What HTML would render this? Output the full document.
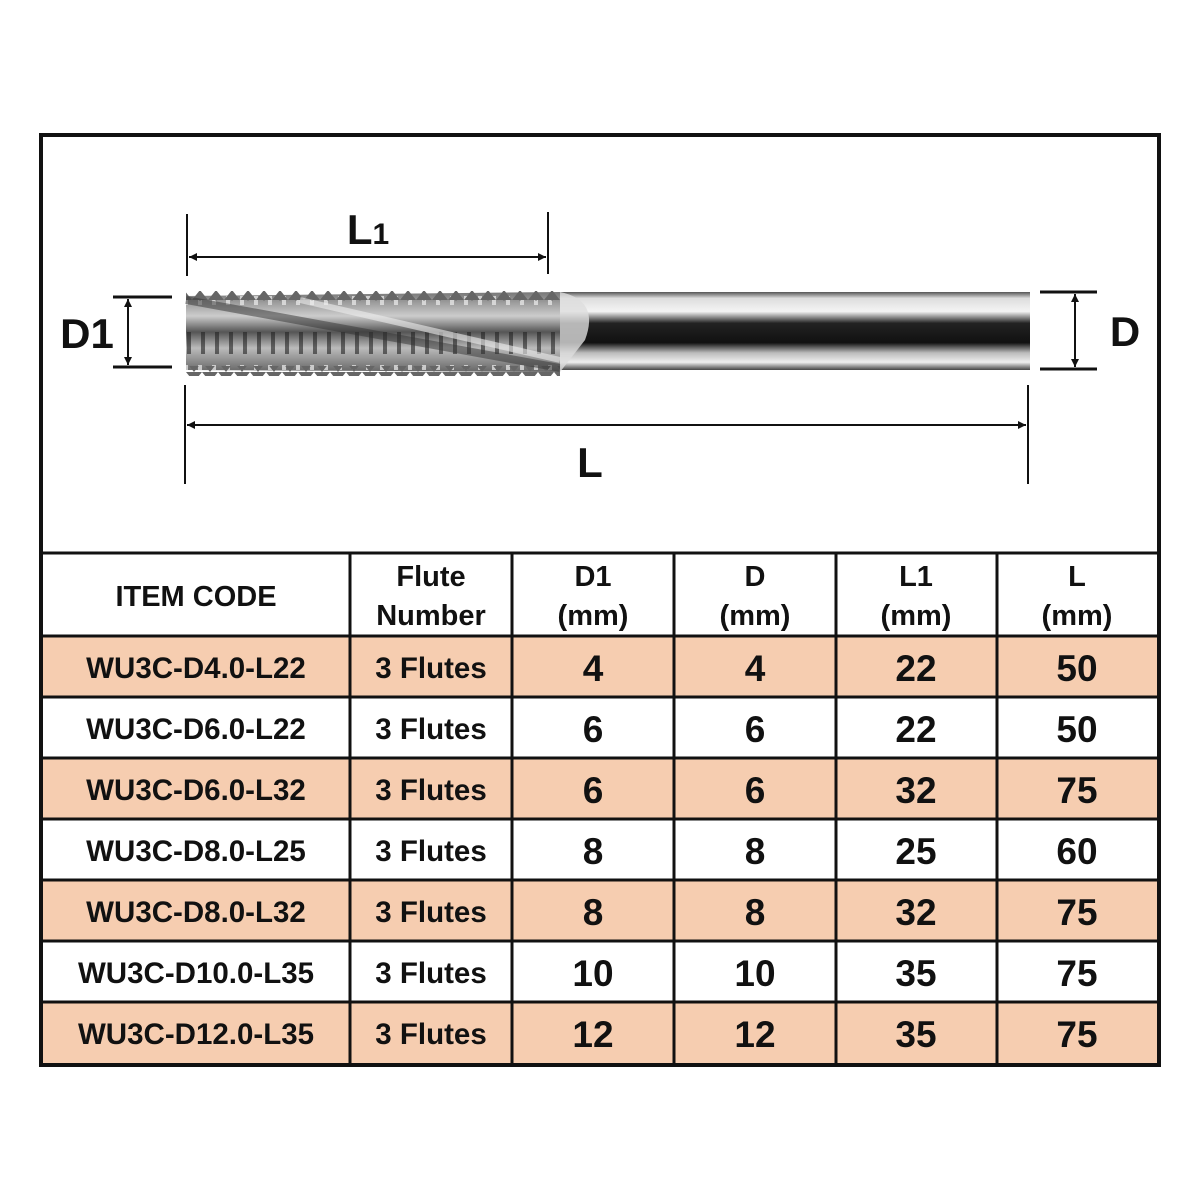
<!DOCTYPE html>
<html><head><meta charset="utf-8"><style>
body{margin:0;background:#fff;width:1200px;height:1200px;position:relative;overflow:hidden;font-family:"Liberation Sans",sans-serif;font-weight:bold;color:#111}
</style></head><body>
<svg width="1200" height="1200" style="position:absolute;left:0;top:0">
<defs>
<linearGradient id="sh" x1="0" y1="0" x2="0" y2="1">
<stop offset="0" stop-color="#555"/><stop offset="0.08" stop-color="#ddd"/><stop offset="0.25" stop-color="#f4f4f4"/><stop offset="0.4" stop-color="#222"/><stop offset="0.65" stop-color="#111"/><stop offset="0.78" stop-color="#bbb"/><stop offset="0.9" stop-color="#eee"/><stop offset="1" stop-color="#444"/>
</linearGradient>
<linearGradient id="fl" x1="0" y1="0" x2="0" y2="1">
<stop offset="0" stop-color="#777"/><stop offset="0.3" stop-color="#ccc"/><stop offset="0.5" stop-color="#555"/><stop offset="0.7" stop-color="#bbb"/><stop offset="1" stop-color="#666"/>
</linearGradient>
<pattern id="tp" width="14" height="80" patternUnits="userSpaceOnUse">
<rect x="5" y="12" width="4" height="22" fill="#222" opacity="0.6"/>
<rect x="2" y="45" width="4" height="20" fill="#eee" opacity="0.7"/>
</pattern>
<pattern id="zz" width="16" height="10" patternUnits="userSpaceOnUse">
<path d="M0 10 L8 0 L16 10Z" fill="#666"/>
</pattern>
</defs>
<rect x="41" y="135" width="1118" height="930" fill="none" stroke="#111" stroke-width="4"/>
<rect x="560" y="292" width="470" height="78" fill="url(#sh)"/>
<path d="M186 296 L560 292 L560 372 L186 370 Z" fill="url(#fl)"/>
<rect x="186" y="296" width="374" height="74" fill="url(#tp)"/>
<rect x="186" y="291" width="374" height="10" fill="url(#zz)"/>
<rect x="186" y="366" width="374" height="10" fill="url(#zz)" transform="rotate(180 373 371)"/>
<path d="M186 300 L560 368" stroke="#333" stroke-width="8" opacity="0.5"/>
<path d="M300 300 L560 360" stroke="#eee" stroke-width="6" opacity="0.6"/>
<path d="M560 292 Q600 300 585 340 L560 372" fill="#ddd" opacity="0.8"/>
<g stroke="#111" stroke-width="2" fill="none">
<line x1="187" y1="214" x2="187" y2="276"/><line x1="548" y1="212" x2="548" y2="274"/>
<line x1="189" y1="257" x2="546" y2="257"/>
<line x1="113" y1="297" x2="172" y2="297" stroke-width="3"/><line x1="113" y1="367" x2="172" y2="367" stroke-width="3"/>
<line x1="128" y1="299" x2="128" y2="365"/>
<line x1="1040" y1="292" x2="1097" y2="292" stroke-width="3"/><line x1="1040" y1="369" x2="1097" y2="369" stroke-width="3"/>
<line x1="1075" y1="294" x2="1075" y2="367"/>
<line x1="185" y1="385" x2="185" y2="484"/><line x1="1028" y1="385" x2="1028" y2="484"/>
<line x1="187" y1="425" x2="1026" y2="425"/>
</g>
<g fill="#111">
<path d="M189 257 l8 -4 v8z"/><path d="M546 257 l-8 -4 v8z"/>
<path d="M128 299 l-4 8 h8z"/><path d="M128 365 l-4 -8 h8z"/>
<path d="M1075 294 l-4 8 h8z"/><path d="M1075 367 l-4 -8 h8z"/>
<path d="M187 425 l8 -4 v8z"/><path d="M1026 425 l-8 -4 v8z"/>
</g>
<g fill="#f6cdb0">
<rect x="43" y="636" width="1114" height="61"/>
<rect x="43" y="758" width="1114" height="61"/>
<rect x="43" y="880" width="1114" height="61"/>
<rect x="43" y="1002" width="1114" height="61"/>
</g>
<g stroke="#111" stroke-width="3">
<line x1="41" y1="553" x2="1159" y2="553"/>
<line x1="41" y1="636" x2="1159" y2="636"/>
<line x1="41" y1="697" x2="1159" y2="697"/>
<line x1="41" y1="758" x2="1159" y2="758"/>
<line x1="41" y1="819" x2="1159" y2="819"/>
<line x1="41" y1="880" x2="1159" y2="880"/>
<line x1="41" y1="941" x2="1159" y2="941"/>
<line x1="41" y1="1002" x2="1159" y2="1002"/>
<line x1="350" y1="553" x2="350" y2="1065"/>
<line x1="512" y1="553" x2="512" y2="1065"/>
<line x1="674" y1="553" x2="674" y2="1065"/>
<line x1="836" y1="553" x2="836" y2="1065"/>
<line x1="997" y1="553" x2="997" y2="1065"/>
</g>
<g font-family="Liberation Sans, sans-serif" font-weight="bold" fill="#111" text-anchor="middle">
<text x="368" y="244" font-size="42">L<tspan font-size="30">1</tspan></text>
<text x="87" y="348" font-size="42">D1</text>
<text x="1125" y="346" font-size="42">D</text>
<text x="590" y="477" font-size="42">L</text>
<text x="196" y="606" font-size="29">ITEM CODE</text>
<g font-size="29">
<text x="431" y="586">Flute</text><text x="431" y="625">Number</text>
<text x="593" y="586">D1</text><text x="593" y="625">(mm)</text>
<text x="755" y="586">D</text><text x="755" y="625">(mm)</text>
<text x="916" y="586">L1</text><text x="916" y="625">(mm)</text>
<text x="1077" y="586">L</text><text x="1077" y="625">(mm)</text>
</g>
<g font-size="29.5">
<text x="196" y="678">WU3C-D4.0-L22</text>
<text x="196" y="739">WU3C-D6.0-L22</text>
<text x="196" y="800">WU3C-D6.0-L32</text>
<text x="196" y="861">WU3C-D8.0-L25</text>
<text x="196" y="922">WU3C-D8.0-L32</text>
<text x="196" y="983">WU3C-D10.0-L35</text>
<text x="196" y="1044">WU3C-D12.0-L35</text>
<text x="431" y="678">3 Flutes</text><text x="431" y="739">3 Flutes</text><text x="431" y="800">3 Flutes</text><text x="431" y="861">3 Flutes</text><text x="431" y="922">3 Flutes</text><text x="431" y="983">3 Flutes</text><text x="431" y="1044">3 Flutes</text>
</g>
<g font-size="37">
<text x="593" y="681">4</text><text x="755" y="681">4</text><text x="916" y="681">22</text><text x="1077" y="681">50</text>
<text x="593" y="742">6</text><text x="755" y="742">6</text><text x="916" y="742">22</text><text x="1077" y="742">50</text>
<text x="593" y="803">6</text><text x="755" y="803">6</text><text x="916" y="803">32</text><text x="1077" y="803">75</text>
<text x="593" y="864">8</text><text x="755" y="864">8</text><text x="916" y="864">25</text><text x="1077" y="864">60</text>
<text x="593" y="925">8</text><text x="755" y="925">8</text><text x="916" y="925">32</text><text x="1077" y="925">75</text>
<text x="593" y="986">10</text><text x="755" y="986">10</text><text x="916" y="986">35</text><text x="1077" y="986">75</text>
<text x="593" y="1047">12</text><text x="755" y="1047">12</text><text x="916" y="1047">35</text><text x="1077" y="1047">75</text>
</g>
</g>
</svg>
</body></html>
